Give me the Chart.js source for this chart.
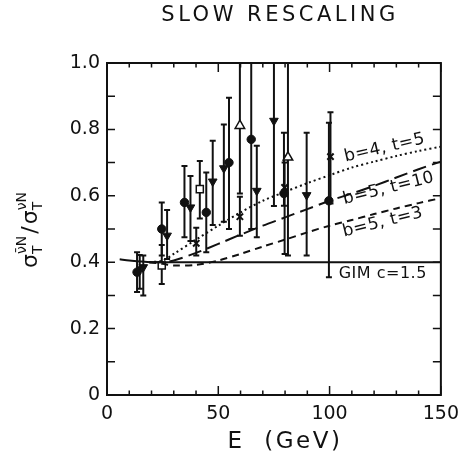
<!DOCTYPE html>
<html>
<head>
<meta charset="utf-8">
<script src="https://cdn.jsdelivr.net/npm/chart.js@4.4.1/dist/chart.umd.min.js"></script>
<style>
    html, body { margin: 0; padding: 0; background: #fff; }
    canvas { display: block; }
</style>
</head>
<body>
<canvas id="chart" width="467" height="462"></canvas>
<script>
// theory curves
const gimE = [5.7, 10, 15, 20, 30, 50, 100, 150];
const gimR = [0.409, 0.405, 0.402, 0.400, 0.400, 0.400, 0.400, 0.400];
const curveE = [19, 25, 30, 40, 50, 60, 70, 80, 90, 100, 110, 120, 130, 140, 150];
const b4t5 = [0.400, 0.405, 0.425, 0.468, 0.510, 0.550, 0.585, 0.612, 0.638, 0.662, 0.685, 0.703, 0.720, 0.735, 0.748];
const b5t10 = [0.400, 0.400, 0.405, 0.428, 0.455, 0.483, 0.510, 0.535, 0.560, 0.585, 0.607, 0.630, 0.655, 0.680, 0.703];
const b5t3 = [0.400, 0.395, 0.390, 0.392, 0.405, 0.425, 0.447, 0.468, 0.490, 0.510, 0.527, 0.545, 0.562, 0.578, 0.593];

// measurements (filled circles)
const circE = [13.5, 24.6, 34.8, 44.6, 54.8, 64.8, 79.5, 99.7];
const circR = [0.370, 0.500, 0.580, 0.550, 0.700, 0.770, 0.607, 0.585];
const circLo = [0.310, 0.420, 0.475, 0.430, 0.500, 0.500, 0.570, 0.355];
const circHi = [0.430, 0.580, 0.690, 0.670, 0.895, 1.050, 0.790, 0.820];

// filled down triangles
const triE = [16.3, 27.0, 37.5, 47.5, 52.5, 67.3, 75.0, 89.7];
const triR = [0.385, 0.480, 0.565, 0.643, 0.683, 0.615, 0.826, 0.602];
const triLo = [0.300, 0.410, 0.464, 0.512, 0.522, 0.475, 0.569, 0.420];
const triHi = [0.420, 0.557, 0.660, 0.766, 0.815, 0.751, 1.050, 0.790];

// open squares
const sqE = [24.6, 41.7];
const sqR = [0.390, 0.620];
const sqLo = [0.334, 0.532];
const sqHi = [0.452, 0.705];

// crosses
const xE = [14.7, 40.1, 59.7, 79.8, 100.4];
const xR = [0.380, 0.457, 0.537, 0.625, 0.718];
const xLo = [0.320, 0.420, 0.480, 0.425, 0.577];
const xHi = [0.422, 0.504, 0.597, 0.700, 0.852];

// open up triangles
const utE = [59.7, 81.3];
const utR = [0.811, 0.716];
const utLo = [0.607, 0.420];
const utHi = [1.050, 1.050];

const FONT = '"DejaVu Sans", sans-serif';
const INK = '#111';

const pts = (E, R) => E.map((e, i) => ({ x: e, y: R[i] }));

const curveLabels = [
    { text: 'b=4, t=5', x: 124.7, y: 0.744, rot: -13 },
    { text: 'b=5, t=10', x: 126.5, y: 0.622, rot: -14 },
    { text: 'b=5, t=3', x: 123.9, y: 0.520, rot: -14 },
    { text: 'GIM c=1.5', x: 123.9, y: 0.364, rot: 0 }
];

const errorBars = {
    id: 'errorBars',
    beforeDatasetsDraw(chart) {
        const { ctx, chartArea: a, scales: { x, y } } = chart;
        ctx.save();
        ctx.beginPath();
        ctx.rect(a.left, a.top, a.right - a.left, a.bottom - a.top);
        ctx.clip();
        ctx.strokeStyle = INK;
        ctx.lineWidth = 2;
        chart.data.datasets.forEach(ds => {
            if (!ds.errLo) return;
            ds.data.forEach((p, i) => {
                const px = x.getPixelForValue(p.x);
                const top = y.getPixelForValue(ds.errHi[i]);
                const bot = y.getPixelForValue(ds.errLo[i]);
                ctx.beginPath();
                ctx.moveTo(px, top); ctx.lineTo(px, bot);
                ctx.moveTo(px - 3, top); ctx.lineTo(px + 3, top);
                ctx.moveTo(px - 3, bot); ctx.lineTo(px + 3, bot);
                ctx.stroke();
            });
        });
        ctx.restore();
    }
};

const frameAndText = {
    id: 'frameAndText',
    afterDraw(chart) {
        const { ctx, chartArea: a, scales: { x, y } } = chart;
        ctx.save();
        ctx.strokeStyle = INK;
        ctx.lineWidth = 2;
        ctx.strokeRect(a.left, a.top, a.right - a.left, a.bottom - a.top);
        ctx.lineWidth = 1.5;
        ctx.beginPath();
        x.ticks.forEach(t => {
            const px = x.getPixelForValue(t.value);
            const len = t.value % 50 === 0 ? 9 : 4.5;
            ctx.moveTo(px, a.bottom); ctx.lineTo(px, a.bottom - len);
            ctx.moveTo(px, a.top); ctx.lineTo(px, a.top + len);
        });
        y.ticks.forEach(t => {
            const py = y.getPixelForValue(t.value);
            ctx.moveTo(a.left, py); ctx.lineTo(a.left + 8, py);
            ctx.moveTo(a.right, py); ctx.lineTo(a.right - 8, py);
        });
        ctx.stroke();

        ctx.fillStyle = INK;
        ctx.textAlign = 'center';
        ctx.textBaseline = 'middle';
        ctx.font = '21px ' + FONT;
        ctx.letterSpacing = '3.5px';
        ctx.fillText('SLOW RESCALING', 280, 16);
        ctx.font = '23px ' + FONT;
        ctx.letterSpacing = '2.5px';
        ctx.fillText('E  (GeV)', 285, 442);

        ctx.letterSpacing = '0.5px';
        curveLabels.forEach(l => {
            ctx.save();
            ctx.translate(x.getPixelForValue(l.x), y.getPixelForValue(l.y));
            ctx.rotate(l.rot * Math.PI / 180);
            ctx.font = (l.rot ? '17px ' : '16px ') + FONT;
            ctx.fillText(l.text, 0, 0);
            ctx.restore();
        });
        ctx.letterSpacing = '0px';
        ctx.restore();
        drawRatioTitle(ctx, 37, 229);
    }
};

function drawRatioTitle(ctx, cx, cy) {
    const big = '22px ' + FONT, small = '14px ' + FONT;
    const groups = [['σ', 'T', 'ν\u0304N'], ['/', '', ''], ['σ', 'T', 'νN']];
    ctx.save();
    ctx.translate(cx, cy);
    ctx.rotate(-Math.PI / 2);
    ctx.fillStyle = INK;
    ctx.textBaseline = 'alphabetic';
    ctx.textAlign = 'left';
    const widths = groups.map(([m, s, u]) => {
        ctx.font = big; const mw = ctx.measureText(m).width;
        ctx.font = small;
        return mw + Math.max(ctx.measureText(s).width, ctx.measureText(u).width) + 2;
    });
    let px = -widths.reduce((a, b) => a + b, 0) / 2;
    groups.forEach(([m, s, u], i) => {
        ctx.font = big;
        ctx.fillText(m, px, 0);
        const mw = ctx.measureText(m).width;
        ctx.font = small;
        if (s) ctx.fillText(s, px + mw, 5);
        if (u) ctx.fillText(u, px + mw, -11);
        px += widths[i];
    });
    ctx.restore();
}

const curve = (data, dash) => ({
    type: 'scatter', data, showLine: true, pointRadius: 0,
    borderColor: INK, borderWidth: 2, borderDash: dash, tension: 0.3, fill: false
});

new Chart(document.getElementById('chart'), {
    type: 'scatter',
    data: {
        datasets: [
            curve(pts(gimE, gimR), []),
            curve(pts(curveE, b4t5), [2, 3]),
            curve(pts(curveE, b5t10), [14, 6]),
            curve(pts(curveE, b5t3), [7, 5]),
            { data: pts(circE, circR), errLo: circLo, errHi: circHi, pointStyle: 'circle', pointRadius: 4.2,
              backgroundColor: INK, borderColor: INK, borderWidth: 1 },
            { data: pts(triE, triR), errLo: triLo, errHi: triHi, pointStyle: 'triangle', rotation: 180, pointRadius: 5,
              backgroundColor: INK, borderColor: INK, borderWidth: 1 },
            { data: pts(sqE, sqR), errLo: sqLo, errHi: sqHi, pointStyle: 'rect', pointRadius: 5,
              backgroundColor: '#fff', borderColor: INK, borderWidth: 1.5 },
            { data: pts(xE, xR), errLo: xLo, errHi: xHi, pointStyle: 'crossRot', pointRadius: 4.5,
              backgroundColor: INK, borderColor: INK, borderWidth: 2 },
            { data: pts(utE, utR), errLo: utLo, errHi: utHi, pointStyle: 'triangle', pointRadius: 5.5,
              backgroundColor: '#fff', borderColor: INK, borderWidth: 1.5 }
        ]
    },
    options: {
        responsive: false,
        animation: false,
        layout: { autoPadding: false, padding: { top: 63, right: 16, left: 0, bottom: 0 } },
        plugins: { legend: { display: false }, tooltip: { enabled: false } },
        scales: {
            x: {
                type: 'linear', min: 0, max: 150,
                afterFit: s => { s.height = 67; },
                grid: { display: false, drawTicks: false },
                border: { display: false },
                ticks: { stepSize: 10, autoSkip: false, maxRotation: 0, padding: 8, color: INK,
                         font: { family: FONT, size: 19 },
                         callback: v => (v % 50 === 0 ? String(v) : '') }
            },
            y: {
                min: 0, max: 1,
                afterFit: s => { s.width = 107; },
                grid: { display: false, drawTicks: false },
                border: { display: false },
                ticks: { stepSize: 0.1, autoSkip: false, padding: 7, color: INK,
                         font: { family: FONT, size: 19 },
                         callback: v => {
                             const k = Math.round(v * 10);
                             if (k % 2) return '';
                             return k === 0 ? '0' : (k / 10).toFixed(1);
                         } }
            }
        }
    },
    plugins: [errorBars, frameAndText]
});
</script>
</body>
</html>
